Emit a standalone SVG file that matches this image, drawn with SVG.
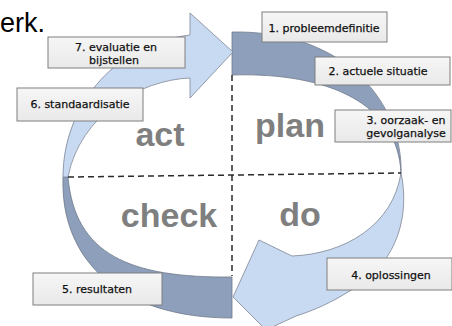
<svg xmlns="http://www.w3.org/2000/svg" width="452" height="326" viewBox="0 0 452 326">
  <defs>
    <linearGradient id="boxg" x1="0" y1="0" x2="0" y2="1">
      <stop offset="0" stop-color="#f6f6f6"/>
      <stop offset="1" stop-color="#e9e9e9"/>
    </linearGradient>
    <style>
      .dark { fill: #8d9fbb; stroke: #6f7a8a; stroke-width: 0.8; }
      .light { fill: #c8daf2; stroke: #7d8594; stroke-width: 0.8; }
      .box { fill: url(#boxg); stroke: #7f7f7f; stroke-width: 1; }
      .lbl { font-family: "DejaVu Sans", sans-serif; font-size: 11px; fill: #111; stroke: #111; stroke-width: 0.25; text-anchor: middle; }
      .big { font-family: "Liberation Sans", Arial, sans-serif; font-size: 34px; font-weight: bold; fill: #7f7f7f; text-anchor: middle; }
      .dash { stroke: #2a2a2a; stroke-width: 1.5; stroke-dasharray: 6 4; fill: none; }
    </style>
  </defs>
  <rect width="452" height="326" fill="#ffffff"/>

  <text x="0" y="32" font-family="Liberation Sans, Arial, sans-serif" font-size="27" fill="#000">erk.</text>

  <g id="cycle">
    <path id="plan-band" class="dark" d="M232,32 C350,30 403,108 401,173 C398,105 330,72 232,75 Z"/>
    <path id="check-band" class="dark" d="M232,318 C120,318 60,260 63,177 L68,177 C75,255 130,278 232,277 Z"/>
    <path id="act-arrow" class="light" d="M63,177 C63,110 110,45 190,35 L190,13 L233,52 L190,98 L190,78 C140,80 80,115 68,177 Z"/>
    <path id="do-arrow" class="light" d="M401,173 C410,215 398,265 348,292 C332,302 315,310 296,316 L266,330 L233,297 L259,240 L292,256 C345,254 393,225 401,173 Z"/>
  </g>

  <g id="connectors">
    <line class="dash" x1="232" y1="75" x2="232" y2="276"/>
    <line class="dash" x1="68" y1="177" x2="401" y2="173"/>
  </g>

  <g id="quadrants">
    <text class="big" x="160" y="146">act</text>
    <text class="big" x="290" y="137">plan</text>
    <text class="big" x="169" y="227">check</text>
    <text class="big" x="300" y="226">do</text>
  </g>

  <g id="step1">
    <rect class="box" x="262" y="12" width="125" height="30"/>
    <text class="lbl" x="324" y="32">1. probleemdefinitie</text>
  </g>
  <g id="step2">
    <rect class="box" x="315" y="57" width="135" height="28"/>
    <text class="lbl" x="378" y="75">2. actuele situatie</text>
  </g>
  <g id="step3">
    <rect class="box" x="335" y="110" width="116" height="32"/>
    <text class="lbl" x="406" y="124">3. oorzaak- en</text>
    <text class="lbl" x="406" y="137">gevolganalyse</text>
  </g>
  <g id="step4">
    <rect class="box" x="327" y="258" width="125" height="32"/>
    <text class="lbl" x="391" y="279">4. oplossingen</text>
  </g>
  <g id="step5">
    <rect class="box" x="33" y="273" width="129" height="32"/>
    <text class="lbl" x="97" y="293">5. resultaten</text>
  </g>
  <g id="step6">
    <rect class="box" x="17" y="88" width="126" height="33"/>
    <text class="lbl" x="80" y="108">6. standaardisatie</text>
  </g>
  <g id="step7">
    <rect class="box" x="48" y="37" width="137" height="31"/>
    <text class="lbl" x="116" y="51">7. evaluatie en</text>
    <text class="lbl" x="114" y="64">bijstellen</text>
  </g>
</svg>
